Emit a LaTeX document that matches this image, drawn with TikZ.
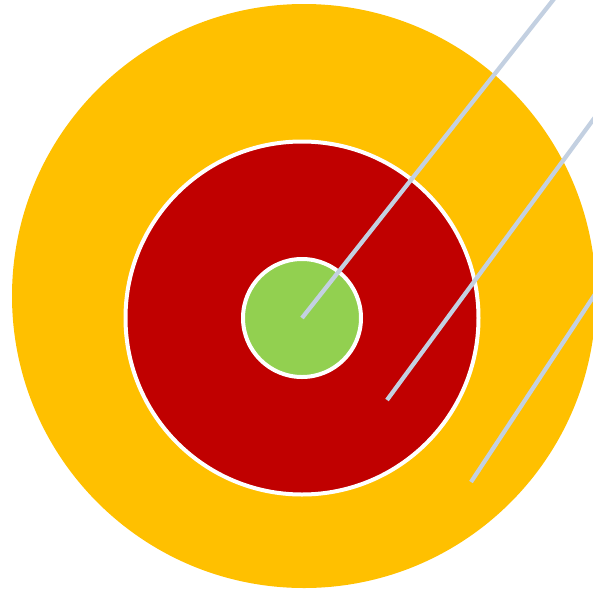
\documentclass[tikz,border=0pt]{standalone}
\usepackage{tikz}
\usetikzlibrary{positioning}
\definecolor{gold}{HTML}{FFC000}
\definecolor{ruby}{HTML}{C00000}
\definecolor{lime}{HTML}{92D050}
\definecolor{shaft}{HTML}{C3D0E1}

\tikzset{
  ring/.style={circle,inner sep=0pt,outer sep=0pt},
  rim/.style={draw=white,line width=3pt},
  arrowline/.style={draw=shaft,line width=3.2pt}
}

\begin{document}
\begin{tikzpicture}[x=0.75pt,y=-0.75pt]
\useasboundingbox (0,0) rectangle (593,590);
\clip (0,0) rectangle (593,590);
% target rings
\node[ring,fill=gold,minimum size=438pt] (outer) at (304,296) {};
\node[ring,rim,fill=ruby,minimum size=264.75pt] (inner) at (302,318) {};
\node[ring,rim,fill=lime,minimum size=88.5pt] (bull) at (inner.center) {};
% where the shafts stop
\coordinate (hitA) at (bull.center);
\coordinate (hitB) at (387,400);
\coordinate (hitC) at (471,482);
\coordinate (tailA) at (561,-10);
\coordinate (tailB) at (615,90);
\coordinate (tailC) at (611,270);
\foreach \s in {A,B,C}
  \draw[arrowline] (hit\s) -- (tail\s);
\end{tikzpicture}
\end{document}
